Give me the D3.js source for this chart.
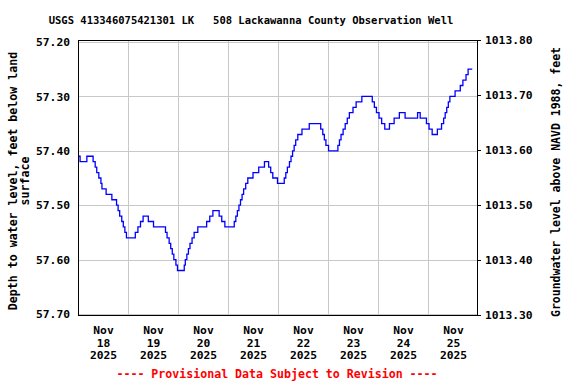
<!DOCTYPE html>
<html lang="en">
<head>
    <meta charset="UTF-8">
    <title>USGS 413346075421301</title>
    <script src="https://d3js.org/d3.v7.min.js"></script>
    <style>
        body { margin: 0; background: #fff; }
        text { font-family: "DejaVu Sans Mono", monospace; font-weight: bold; }
    </style>
</head>
<body>

<script>
    // readings (change points of the 15-min record), depth below land surface
    readTimes = [
        "2025-11-18 00:00", "2025-11-18 01:00", "2025-11-18 04:15", "2025-11-18 07:15",
        "2025-11-18 08:15", "2025-11-18 09:00", "2025-11-18 10:00", "2025-11-18 11:00",
        "2025-11-18 11:30", "2025-11-18 13:30", "2025-11-18 16:15", "2025-11-18 18:30",
        "2025-11-18 19:15", "2025-11-18 20:00", "2025-11-18 21:00", "2025-11-18 21:45",
        "2025-11-18 22:30", "2025-11-18 23:15",
        "2025-11-19 03:30", "2025-11-19 04:45", "2025-11-19 06:00", "2025-11-19 07:15",
        "2025-11-19 09:45", "2025-11-19 12:15", "2025-11-19 18:00", "2025-11-19 18:45",
        "2025-11-19 19:45", "2025-11-19 20:30", "2025-11-19 21:15", "2025-11-19 22:00",
        "2025-11-19 23:00", "2025-11-19 23:45",
        "2025-11-20 03:00", "2025-11-20 03:30", "2025-11-20 04:15", "2025-11-20 05:00",
        "2025-11-20 05:45", "2025-11-20 06:45", "2025-11-20 07:45", "2025-11-20 09:30",
        "2025-11-20 13:45", "2025-11-20 15:15", "2025-11-20 16:45", "2025-11-20 19:45",
        "2025-11-20 21:00", "2025-11-20 22:30",
        "2025-11-21 03:00", "2025-11-21 03:45", "2025-11-21 04:30", "2025-11-21 05:15",
        "2025-11-21 06:00", "2025-11-21 06:45", "2025-11-21 07:30", "2025-11-21 08:30",
        "2025-11-21 09:30", "2025-11-21 12:00", "2025-11-21 14:45", "2025-11-21 17:30",
        "2025-11-21 19:30", "2025-11-21 20:30", "2025-11-21 21:30", "2025-11-21 23:45",
        "2025-11-22 03:00", "2025-11-22 03:45", "2025-11-22 04:30", "2025-11-22 05:30",
        "2025-11-22 06:15", "2025-11-22 07:00", "2025-11-22 07:45", "2025-11-22 08:30",
        "2025-11-22 09:30", "2025-11-22 11:30", "2025-11-22 15:00", "2025-11-22 20:30",
        "2025-11-22 21:30", "2025-11-22 22:15", "2025-11-22 23:00",
        "2025-11-23 00:15", "2025-11-23 04:45", "2025-11-23 05:30", "2025-11-23 06:15",
        "2025-11-23 07:15", "2025-11-23 08:15", "2025-11-23 09:15", "2025-11-23 10:15",
        "2025-11-23 12:00", "2025-11-23 13:30", "2025-11-23 16:15", "2025-11-23 21:15",
        "2025-11-23 22:15", "2025-11-23 23:15",
        "2025-11-24 00:30", "2025-11-24 01:45", "2025-11-24 03:15", "2025-11-24 05:30",
        "2025-11-24 07:45", "2025-11-24 10:15", "2025-11-24 13:00", "2025-11-24 19:00",
        "2025-11-24 20:15", "2025-11-24 23:15",
        "2025-11-25 00:30", "2025-11-25 02:00", "2025-11-25 04:30", "2025-11-25 06:30",
        "2025-11-25 07:30", "2025-11-25 08:15", "2025-11-25 09:00", "2025-11-25 09:45",
        "2025-11-25 10:30", "2025-11-25 13:00", "2025-11-25 15:30", "2025-11-25 16:45",
        "2025-11-25 18:15", "2025-11-25 19:15", "2025-11-25 21:15"
    ]

    depthFt = [
        57.41, 57.42, 57.41, 57.42, 57.43, 57.44, 57.45, 57.46,
        57.47, 57.48, 57.49, 57.50, 57.51, 57.52, 57.53, 57.54,
        57.55, 57.56,
        57.55, 57.54, 57.53, 57.52, 57.53, 57.54, 57.55, 57.56,
        57.57, 57.58, 57.59, 57.60, 57.61, 57.62,
        57.61, 57.60, 57.59, 57.58, 57.57, 57.56, 57.55, 57.54,
        57.53, 57.52, 57.51, 57.52, 57.53, 57.54,
        57.53, 57.52, 57.51, 57.50, 57.49, 57.48, 57.47, 57.46,
        57.45, 57.44, 57.43, 57.42, 57.43, 57.44, 57.45, 57.46,
        57.45, 57.44, 57.43, 57.42, 57.41, 57.40, 57.39, 57.38,
        57.37, 57.36, 57.35, 57.36, 57.37, 57.38, 57.39,
        57.40, 57.39, 57.38, 57.37, 57.36, 57.35, 57.34, 57.33,
        57.32, 57.31, 57.30, 57.31, 57.32, 57.33,
        57.34, 57.35, 57.36, 57.35, 57.34, 57.33, 57.34, 57.33,
        57.34, 57.35,
        57.36, 57.37, 57.36, 57.35, 57.34, 57.33, 57.32, 57.31,
        57.30, 57.29, 57.28, 57.27, 57.26, 57.25, 57.25
    ]

    depthTicks = [57.20, 57.30, 57.40, 57.50, 57.60, 57.70]
    elevTicks = [1013.30, 1013.40, 1013.50, 1013.60, 1013.70, 1013.80]
    dayLabels = ["2025-11-18", "2025-11-19", "2025-11-20", "2025-11-21",
                 "2025-11-22", "2025-11-23", "2025-11-24", "2025-11-25"]

    title = "USGS 413346075421301 LK   508 Lackawanna County Observation Well"
    leftLabel = ["Depth to water level, feet below land", "surface"]
    rightLabel = "Groundwater level above NAVD 1988, feet"
    footer = "---- Provisional Data Subject to Revision ----"

    parseT = d3.timeParse("%Y-%m-%d %H:%M")
    parseD = d3.timeParse("%Y-%m-%d")
    data = readTimes.map((t, i) => ({t: parseT(t), v: depthFt[i]}))

    //chart dimensions
    w = 576
    h = 384
    frame = {left: 78, right: 478, top: 40, bottom: 316}

    svg = d3.select("body")
        .append("svg")
        .attr("width", w)
        .attr("height", h)

    //scales
    x = d3.scaleTime()
        .domain([parseD("2025-11-18"), parseD("2025-11-26")])
        .range([frame.left, frame.right])

    y = d3.scaleLinear()
        .domain([57.20, 57.70])
        .range([42, 314])

    yR = d3.scaleLinear()
        .domain([1013.30, 1013.80])
        .range([315, 40])

    //grid
    days = d3.timeDay.range(parseD("2025-11-19"), parseD("2025-11-26"))
    svg.append("g")
        .selectAll("line")
        .data(days)
        .join("line")
        .attr("x1", d => Math.round(x(d)) + 0.5)
        .attr("x2", d => Math.round(x(d)) + 0.5)
        .attr("y1", frame.top)
        .attr("y2", frame.bottom)
        .attr("stroke", "#c8c8c8")

    svg.append("g")
        .selectAll("line")
        .data(depthTicks)
        .join("line")
        .attr("x1", frame.left)
        .attr("x2", frame.right)
        .attr("y1", d => Math.round(y(d)) + 0.5)
        .attr("y2", d => Math.round(y(d)) + 0.5)
        .attr("stroke", "#c8c8c8")

    //data line
    line = d3.line()
        .x(d => x(d.t))
        .y(d => y(d.v))
        .curve(d3.curveStepAfter)

    svg.append("path")
        .datum(data)
        .attr("d", line)
        .attr("fill", "none")
        .attr("stroke", "#0000ff")
        .attr("stroke-width", 1.3)

    //frame
    svg.append("rect")
        .attr("x", frame.left + 0.5)
        .attr("y", frame.top + 0.5)
        .attr("width", frame.right - frame.left - 1)
        .attr("height", frame.bottom - frame.top - 1)
        .attr("fill", "none")
        .attr("stroke", "#000")

    //left axis
    leftAxis = svg.append("g")
        .attr("transform", "translate(" + frame.left + ",0)")
        .call(d3.axisLeft(y).tickValues(depthTicks).tickSize(0).tickPadding(8)
            .tickFormat(d3.format(".2f")))
    leftAxis.select(".domain").remove()
    leftAxis.selectAll("text").style("font-size", "11.3px").attr("fill", "#000")

    //right axis
    rightAxis = svg.append("g")
        .attr("transform", "translate(" + (frame.right - 1) + ",0)")
        .call(d3.axisRight(yR).tickValues(elevTicks).tickSize(4).tickPadding(4)
            .tickFormat(d3.format(".2f")))
    rightAxis.select(".domain").remove()
    rightAxis.selectAll("text").style("font-size", "11.3px").attr("fill", "#000")

    //x labels: noon of each day
    xAxis = svg.append("g")
        .attr("transform", "translate(0," + frame.bottom + ")")
        .call(d3.axisBottom(x)
            .tickValues(dayLabels.map(d => d3.timeHour.offset(parseD(d), 12)))
            .tickSize(0).tickFormat(""))
    xAxis.select(".domain").remove()
    fmt = [d3.timeFormat("%b"), d3.timeFormat("%d"), d3.timeFormat("%Y")]
    xAxis.selectAll(".tick text")
        .style("font-size", "11.3px")
        .attr("fill", "#000")
        .attr("dy", null)
        .attr("y", 18)
        .each(function(d) {
            t = d3.select(this)
            fmt.forEach((f, i) => {
                t.append("tspan").attr("x", 0).attr("y", 18 + i * 12.7).text(f(d))
            })
        })

    //titles
    svg.append("text")
        .attr("x", 251)
        .attr("y", 24)
        .attr("text-anchor", "middle")
        .style("font-size", "10.5px")
        .style("white-space", "pre")
        .attr("xml:space", "preserve")
        .text(title)

    leftLabel.forEach((s, i) => {
        svg.append("text")
            .attr("transform", "translate(" + (16.5 + i * 12.5) + ",181) rotate(-90)")
            .attr("text-anchor", "middle")
            .style("font-size", "11.6px")
            .text(s)
    })

    svg.append("text")
        .attr("transform", "translate(560,182) rotate(-90)")
        .attr("text-anchor", "middle")
        .style("font-size", "11.5px")
        .text(rightLabel)

    svg.append("text")
        .attr("x", 277)
        .attr("y", 378)
        .attr("text-anchor", "middle")
        .attr("fill", "#ff0000")
        .style("font-size", "11.6px")
        .text(footer)
</script>

</body>
</html>
